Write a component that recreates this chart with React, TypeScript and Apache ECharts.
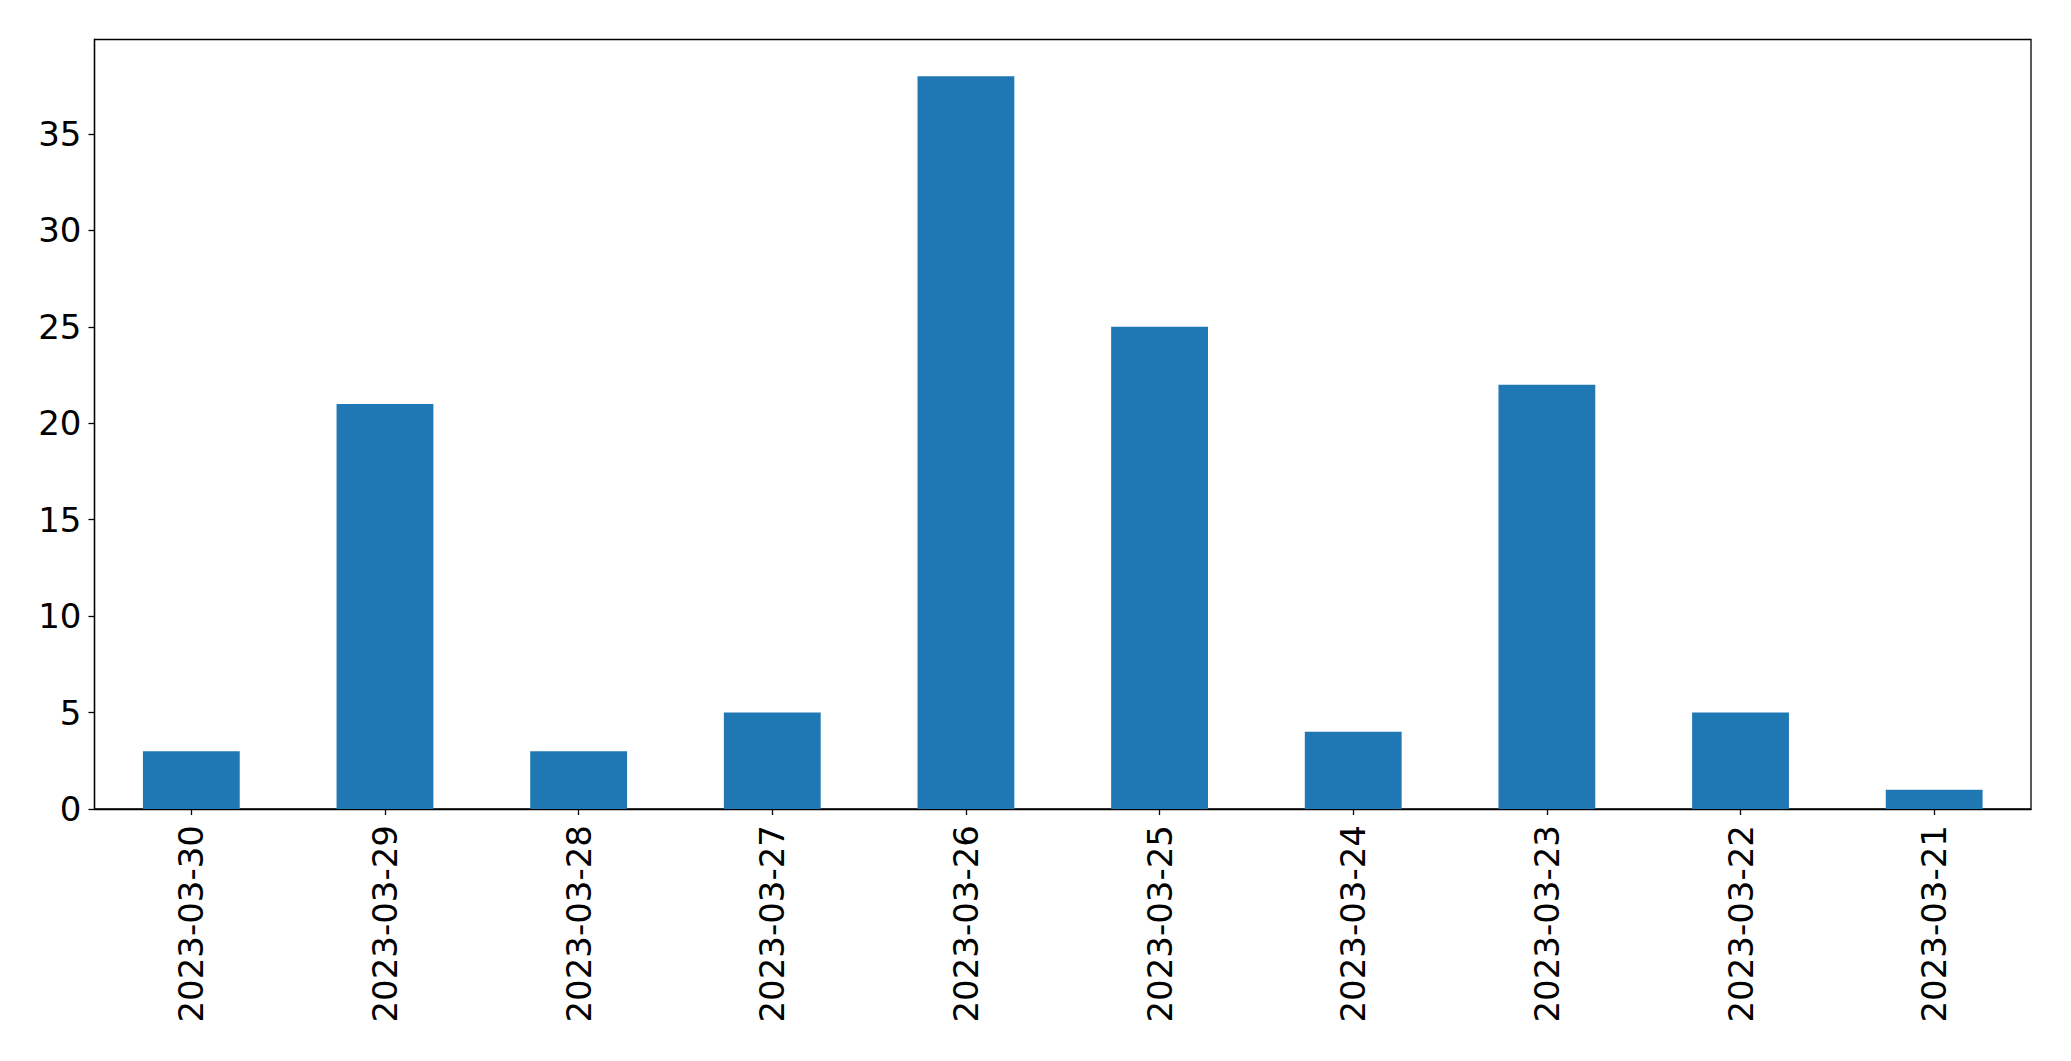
import React, { useEffect, useRef } from "react";
import * as echarts from "echarts";

const categories = [
  "2023-03-30",
  "2023-03-29",
  "2023-03-28",
  "2023-03-27",
  "2023-03-26",
  "2023-03-25",
  "2023-03-24",
  "2023-03-23",
  "2023-03-22",
  "2023-03-21",
];
const counts = [3, 21, 3, 5, 38, 25, 4, 22, 5, 1];
const yTicks = [0, 5, 10, 15, 20, 25, 30, 35];
const yMax = 39.9;

export default function App() {
  const ref = useRef<HTMLDivElement>(null);
  useEffect(() => {
    if (!ref.current) return;
    const chart = echarts.init(ref.current, null, { renderer: "svg" });
    const font = "DejaVu Sans";
    chart.setOption({
      animation: false,
      backgroundColor: "#ffffff",
      grid: {
        left: 94.5,
        top: 39.5,
        right: 40,
        bottom: 252,
        show: true,
        borderColor: "#000000",
        borderWidth: 1.3,
        backgroundColor: "transparent",
      },
      xAxis: {
        type: "category",
        data: categories,
        boundaryGap: true,
        axisLine: { show: true, lineStyle: { color: "#000", width: 1.3 } },
        axisTick: {
          show: true,
          alignWithLabel: true,
          length: 6,
          lineStyle: { color: "#000", width: 1.3 },
        },
        axisLabel: {
          rotate: 90,
          margin: 16,
          color: "#000",
          fontFamily: font,
          fontSize: 34,
        },
        splitLine: { show: false },
      },
      yAxis: {
        type: "value",
        min: 0,
        max: yMax,
        interval: 5,
        axisLine: { show: true, lineStyle: { color: "#000", width: 1.3 } },
        axisTick: {
          show: true,
          length: 6,
          customValues: yTicks,
          lineStyle: { color: "#000", width: 1.3 },
        },
        axisLabel: {
          margin: 13,
          color: "#000",
          fontFamily: font,
          fontSize: 34,
          customValues: yTicks,
        },
        splitLine: { show: false },
      },
      series: [
        {
          type: "bar",
          data: counts,
          barWidth: "50%",
          itemStyle: { color: "#1f77b4" },
        },
      ],
    });
    return () => chart.dispose();
  }, []);
  return (
    <div
      ref={ref}
      style={{ position: "fixed", left: 0, top: 0, width: 2071, height: 1061 }}
    />
  );
}
